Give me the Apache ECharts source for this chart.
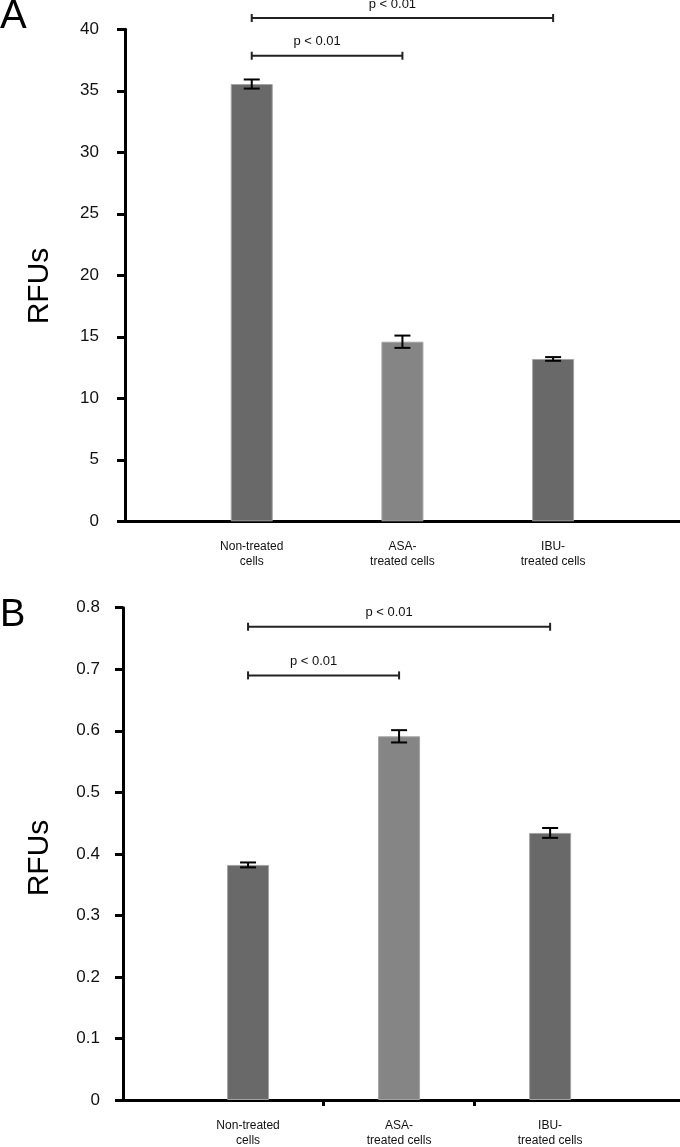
<!DOCTYPE html>
<html>
<head>
<meta charset="utf-8">
<script src="https://cdn.jsdelivr.net/npm/echarts@6/dist/echarts.min.js"></script>
<style>
html,body{margin:0;padding:0;background:#fff;}
#c{width:680px;height:1147px;}
</style>
</head>
<body>
<div id="c"></div>
<script>
// ---- data ----
const categories = ['Non-treated\ncells', 'ASA-\ntreated cells', 'IBU-\ntreated cells'];
const catPositions = [1, 2, 3];
const valuesA = [35.55, 14.6, 13.2];
const errorsA = [0.37, 0.5, 0.15];
const valuesB = [0.382, 0.591, 0.434];
const errorsB = [0.004, 0.01, 0.008];
const ticksA = [0, 5, 10, 15, 20, 25, 30, 35, 40];
const ticksB = [0, 0.1, 0.2, 0.3, 0.4, 0.5, 0.6, 0.7, 0.8];
const barColors = ['#696969', '#858585', '#696969'];
const sigLabel = 'p < 0.01';
// brackets: [from category, to category, level]
const bracketsA = [[1, 3, 40.92], [1, 2, 37.85]];
const bracketsB = [[1, 3, 0.769], [1, 2, 0.690]];

const FONT = "'Liberation Sans', Arial, sans-serif";

function barData(vals) {
  return vals.map((v, i) => ({ value: [catPositions[i], v], itemStyle: { color: barColors[i] } }));
}
function errData(vals, errs) {
  return vals.map((v, i) => [catPositions[i], v - errs[i], v + errs[i]]);
}
function errRender(params, api) {
  const x = api.value(0);
  const lo = api.coord([x, api.value(1)]);
  const hi = api.coord([x, api.value(2)]);
  const hw = 8;
  const st = { stroke: '#000', lineWidth: 2 };
  return {
    type: 'group',
    children: [
      { type: 'line', shape: { x1: lo[0], y1: lo[1], x2: hi[0], y2: hi[1] }, style: st },
      { type: 'line', shape: { x1: lo[0] - hw, y1: lo[1], x2: lo[0] + hw, y2: lo[1] }, style: st },
      { type: 'line', shape: { x1: hi[0] - hw, y1: hi[1], x2: hi[0] + hw, y2: hi[1] }, style: st }
    ]
  };
}
function bracketRender(params, api) {
  const a = api.coord([api.value(0), api.value(2)]);
  const b = api.coord([api.value(1), api.value(2)]);
  const st = { stroke: '#222', lineWidth: 2 };
  const h = 4;
  return {
    type: 'group',
    children: [
      { type: 'line', shape: { x1: a[0], y1: a[1], x2: b[0], y2: b[1] }, style: st },
      { type: 'line', shape: { x1: a[0], y1: a[1] - h, x2: a[0], y2: a[1] + h }, style: st },
      { type: 'line', shape: { x1: b[0], y1: b[1] - h, x2: b[0], y2: b[1] + h }, style: st },
      { type: 'text', x: (a[0] + b[0]) / 2 - 10, y: a[1] - 14,
        style: { text: sigLabel, font: '13px ' + FONT, fill: '#111', align: 'center', verticalAlign: 'middle' } }
    ]
  };
}

const chart = echarts.init(document.getElementById('c'), null, { renderer: 'canvas' });

function xAxisCfg(gridIndex, min, max, withTicks) {
  return {
    type: 'value', gridIndex, min, max,
    splitLine: { show: false },
    axisLine: { show: true, onZero: false, lineStyle: { color: '#000', width: 3 } },
    axisTick: withTicks ? { show: true, customValues: [1.5, 2.5], length: 6, inside: false, lineStyle: { color: '#000', width: 3 } } : { show: false },
    axisLabel: {
      customValues: catPositions,
      formatter: v => categories[Math.round(v) - 1] || '',
      fontFamily: FONT, fontSize: 12, color: '#111', lineHeight: 15, margin: 18
    }
  };
}
function yAxisCfg(gridIndex, max, interval, margin) {
  return {
    type: 'value', gridIndex, min: 0, max, interval,
    splitLine: { show: false },
    axisLine: { show: true, lineStyle: { color: '#000', width: 3 } },
    axisTick: { show: true, length: 8, inside: false, lineStyle: { color: '#000', width: 3 } },
    axisLabel: { fontFamily: FONT, fontSize: 17, color: '#111', margin }
  };
}

chart.setOption({
  animation: false,
  backgroundColor: '#fff',
  grid: [
    { left: 125, top: 29.3, width: 555, height: 492, containLabel: false, outerBoundsMode: 'none' },
    { left: 123, top: 607.7, width: 557, height: 492.3, containLabel: false, outerBoundsMode: 'none' }
  ],
  xAxis: [
    xAxisCfg(0, 0.159, 3.842, false),
    xAxisCfg(1, 0.172, 3.86, true)
  ],
  yAxis: [
    yAxisCfg(0, ticksA[ticksA.length - 1], ticksA[1] - ticksA[0], 26),
    yAxisCfg(1, ticksB[ticksB.length - 1], 0.1, 23)
  ],
  graphic: [
    { type: 'text', left: 0, top: -3, style: { text: 'A', font: '40px ' + FONT, fill: '#000' } },
    { type: 'text', left: 0, top: 597, style: { text: 'B', font: '38px ' + FONT, fill: '#000' } },
    { type: 'text', x: 40, y: 286, rotation: Math.PI / 2,
      style: { text: 'RFUs', font: '30px ' + FONT, fill: '#000', align: 'center', verticalAlign: 'middle' } },
    { type: 'text', x: 40, y: 858, rotation: Math.PI / 2,
      style: { text: 'RFUs', font: '30px ' + FONT, fill: '#000', align: 'center', verticalAlign: 'middle' } }
  ],
  series: [
    { type: 'bar', xAxisIndex: 0, yAxisIndex: 0, barWidth: 42, data: barData(valuesA),
      itemStyle: { borderColor: '#a3a3a3', borderWidth: 1 } },
    { type: 'custom', xAxisIndex: 0, yAxisIndex: 0, data: errData(valuesA, errorsA), renderItem: errRender, encode: { x: 0, y: [1, 2] }, z: 5 },
    { type: 'custom', xAxisIndex: 0, yAxisIndex: 0, data: bracketsA, renderItem: bracketRender, encode: { x: [0, 1], y: 2 }, clip: false, z: 5 },
    { type: 'bar', xAxisIndex: 1, yAxisIndex: 1, barWidth: 42, data: barData(valuesB),
      itemStyle: { borderColor: '#a3a3a3', borderWidth: 1 } },
    { type: 'custom', xAxisIndex: 1, yAxisIndex: 1, data: errData(valuesB, errorsB), renderItem: errRender, encode: { x: 0, y: [1, 2] }, z: 5 },
    { type: 'custom', xAxisIndex: 1, yAxisIndex: 1, data: bracketsB, renderItem: bracketRender, encode: { x: [0, 1], y: 2 }, clip: false, z: 5 }
  ]
});
</script>
</body>
</html>
